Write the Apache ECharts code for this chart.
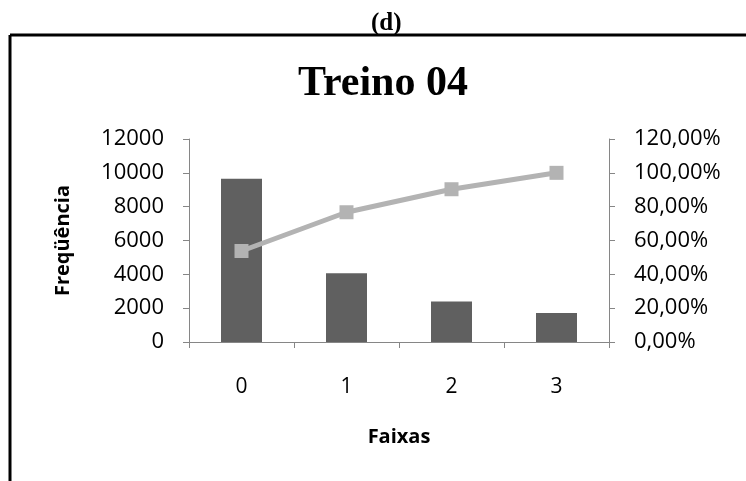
<!DOCTYPE html>
<html>
<head>
<meta charset="utf-8">
<script src="https://cdn.jsdelivr.net/npm/echarts@6/dist/echarts.min.js"></script>
<style>
html,body{margin:0;padding:0;background:#fff;}
#c{width:746px;height:481px;}
</style>
</head>
<body>
<div id="c"></div>
<script>
var categories = ['0', '1', '2', '3'];
var frequencies = [9650, 4070, 2390, 1720];
var cumulativePct = [53.8, 76.7, 90.3, 100.0];
var leftTicks = {min: 0, max: 12000, interval: 2000};
var rightTicks = {min: 0, max: 120, interval: 20};

var chart = echarts.init(document.getElementById('c'), null, {renderer: 'canvas'});
var axisGray = '#868686';
var font = '"Open Sans", "Liberation Sans", sans-serif';
chart.setOption({
  animation: false,
  backgroundColor: '#fff',
  title: [
    {text: '(d)', left: 366, top: 6, textStyle: {fontFamily: '"Liberation Serif", serif', fontWeight: 'bold', fontSize: 25, color: '#000'}},
    {text: 'Treino 04', left: 293, top: 58, textStyle: {fontFamily: '"Liberation Serif", serif', fontWeight: 'bold', fontSize: 42, color: '#000'}}
  ],
  graphic: [
    {type: 'line', shape: {x1: 10, y1: 35, x2: 746, y2: 35}, style: {stroke: '#000', lineWidth: 3}},
    {type: 'line', shape: {x1: 10, y1: 35, x2: 10, y2: 481}, style: {stroke: '#000', lineWidth: 3}}
  ],
  grid: {left: 189, right: 137, top: 139, bottom: 139, containLabel: false},
  xAxis: {
    type: 'category',
    data: categories,
    name: 'Faixas',
    nameLocation: 'middle',
    nameGap: 85,
    nameTextStyle: {fontFamily: font, fontWeight: 'bold', fontSize: 20, color: '#000'},
    axisLine: {lineStyle: {color: axisGray, width: 1}},
    axisTick: {show: true, inside: false, length: 6, lineStyle: {color: axisGray}},
    axisLabel: {margin: 35, fontFamily: font, fontSize: 21, color: '#000'},
    splitLine: {show: false}
  },
  yAxis: [
    {
      type: 'value',
      min: leftTicks.min, max: leftTicks.max, interval: leftTicks.interval,
      name: 'Freqüência',
      nameLocation: 'middle',
      nameGap: 116,
      nameRotate: 90,
      nameTextStyle: {fontFamily: font, fontWeight: 'bold', fontSize: 20, color: '#000'},
      axisLine: {show: true, lineStyle: {color: axisGray, width: 1}},
      axisTick: {show: true, length: 6, lineStyle: {color: axisGray}},
      axisLabel: {margin: 25, fontFamily: font, fontSize: 22, color: '#000',
        formatter: function (v) { return String(v); }},
      splitLine: {show: false}
    },
    {
      type: 'value',
      position: 'right',
      min: rightTicks.min, max: rightTicks.max, interval: rightTicks.interval,
      axisLine: {show: true, lineStyle: {color: axisGray, width: 1}},
      axisTick: {show: true, length: 6, lineStyle: {color: axisGray}},
      axisLabel: {margin: 25, fontFamily: font, fontSize: 22, color: '#000',
        formatter: function (v) { return v.toFixed(2).replace('.', ',') + '%'; }},
      splitLine: {show: false}
    }
  ],
  series: [
    {
      type: 'bar',
      data: frequencies,
      yAxisIndex: 0,
      barWidth: 41,
      itemStyle: {color: '#606060'}
    },
    {
      type: 'line',
      data: cumulativePct,
      yAxisIndex: 1,
      symbol: 'rect',
      symbolSize: 14,
      lineStyle: {color: '#b3b3b3', width: 5},
      itemStyle: {color: '#b3b3b3'},
      z: 5
    }
  ]
});
</script>
</body>
</html>
